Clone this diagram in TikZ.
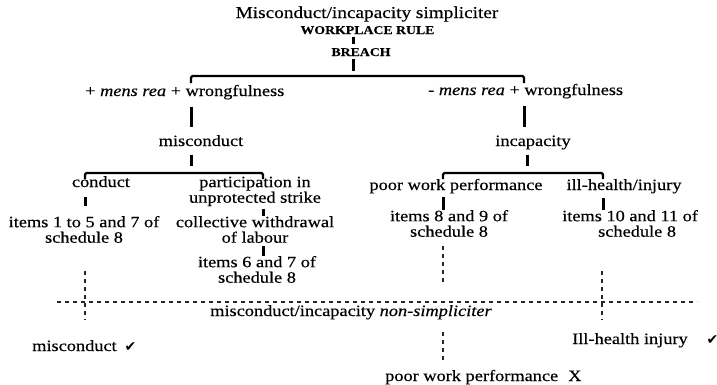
\documentclass[tikz,border=0pt]{standalone}
\usepackage{fontspec}
\setmainfont{Liberation Serif}[FakeStretch=1.16, FakeBold=0.35]
\newfontfamily\symfont{DejaVu Sans}
\newcommand\mytop{\rule{0pt}{11.5pt}}
\newcommand\mybot{\rule[-3.5pt]{0pt}{3.5pt}}
\newcommand\chk{{\symfont\fontsize{14}{14}\selectfont ✔}}
\begin{document}
\begin{tikzpicture}[x=1pt,y=-1pt,
  every node/.style={inner sep=0pt},
  txt/.style={font=\fontsize{15.8}{15.5}\selectfont, text height=11.5pt, text depth=3.5pt, anchor=base},
  mtxt/.style={font=\fontsize{15.8}{15.5}\selectfont, align=center, anchor=north},
  capsb/.style={font=\fontsize{11.9}{14}\selectfont\bfseries, text height=9.5pt, text depth=2.5pt, anchor=base},
  conn/.style={line width=3pt},
  brk/.style={line width=2.4pt, rounded corners=1.5pt},
  dsh/.style={line width=1.2pt, dash pattern=on 4pt off 4pt, black!85},
]
\fill[white] (0,0) rectangle (717,384);
\useasboundingbox (0,0) rectangle (717,384);

% nodes
\node[txt, font=\fontsize{16.6}{18}\selectfont] (title) at (367,18) {Misconduct/incapacity simpliciter};
\node[capsb] (rule) at (367.5,34) {WORKPLACE RULE};
\node[capsb] (breach) at (361,56) {BREACH};
\node[txt, anchor=base west] (pmr) at (85,96) {+ \textit{mens rea} + wrongfulness};
\node[txt, anchor=base west] (mmr) at (428,95) {- \textit{mens rea} + wrongfulness};
\node[txt] (mis) at (201,146) {misconduct};
\node[txt] (inc) at (533,146) {incapacity};
\node[txt] (cond) at (101,187) {conduct};
\node[mtxt] (part) at (255,175.5) {\mytop participation in\\unprotected strike\mybot};
\node[txt] (poor) at (456,190) {poor work performance};
\node[txt] (ill) at (624,190) {ill-health/injury};
\node[mtxt] (it15) at (84,215.5) {\mytop items 1 to 5 and 7 of\\schedule 8\mybot};
\node[mtxt] (coll) at (255,215.5) {\mytop collective withdrawal\\of labour\mybot};
\node[mtxt] (it67) at (257,255.5) {\mytop items 6 and 7 of\\schedule 8\mybot};
\node[mtxt] (it89) at (449,209.5) {\mytop items 8 and 9 of\\schedule 8\mybot};
\node[mtxt, align=left, anchor=north west] (it1011) at (562,209.5) {\mytop items 10 and 11 of\\\hspace*{36pt}schedule 8\mybot};
\node[txt, anchor=base west] (nons) at (210,316) {misconduct/incapacity \textit{non-simpliciter}};
\node[txt, anchor=base west] (misok) at (32,351) {misconduct\hspace{8pt}\chk};
\node[txt, anchor=base west] (illok) at (572,344) {Ill-health injury\hspace*{19pt}\chk};
\node[txt, anchor=base west] (poorx) at (385,381) {poor work performance\hspace{10pt}X};

% junction coordinates
\coordinate (cA) at (353,71);
\coordinate (b1l) at (191,83);
\coordinate (b1r) at (524,83);
\coordinate (j2) at (191,166);
\coordinate (j3) at (527,166);
\coordinate (b2l) at (85,179);
\coordinate (b2r) at (263,179);
\coordinate (b3l) at (443,179);
\coordinate (b3r) at (603,179);
\coordinate (d1) at (85,320);
\coordinate (d2) at (443,282);
\coordinate (d3) at (602,320);
\coordinate (d4) at (443,332);
\coordinate (h1) at (57,302);
\coordinate (h2) at (697,302);

% solid connectors
\draw[conn, shorten >=2.5pt] (rule.south -| cA) -- (breach.north -| cA);
\draw[conn] (breach.south -| cA) -- (cA);
\draw[brk] (b1l) -- ++(0,-7) -| (b1r);
\draw[conn, shorten <=7.5pt, shorten >=7.5pt] (pmr.south -| b1l) -- (mis.north -| b1l);
\draw[conn, shorten <=7.5pt, shorten >=7.5pt] (mmr.south -| b1r) -- (inc.north -| b1r);
\draw[conn, shorten <=5.5pt] (mis.south -| j2) -- (j2);
\draw[conn, shorten <=5.5pt] (inc.south -| j3) -- (j3);
\draw[brk] (b2l) -- ++(0,-6) -| (b2r);
\draw[brk] (b3l) -- ++(0,-6) -| (b3r);
\draw[conn, shorten <=6.5pt, shorten >=9.5pt] (cond.south -| b2l) -- (it15.north -| b2l);
\draw[conn, shorten <=2.5pt] (part.south -| b2r) -- (coll.north -| b2r);
\draw[conn] (coll.south -| b2r) -- (it67.north -| b2r);
\draw[conn, shorten <=3.5pt] (poor.south -| b3l) -- (it89.north -| b3l);
\draw[conn, shorten <=4.5pt] (ill.south -| b3r) -- (it1011.north -| b3r);

% dashed connectors
\draw[dsh, shorten <=24.5pt] (it15.south -| d1) -- (d1);
\draw[dsh, shorten <=5.5pt] (it89.south -| d2) -- (d2);
\draw[dsh, shorten <=30.5pt] (it1011.south -| d3) -- (d3);
\draw[dsh] (h1) -- (h2);
\draw[dsh, shorten >=9.5pt] (d4) -- (poorx.north -| d4);
\end{tikzpicture}
\end{document}
